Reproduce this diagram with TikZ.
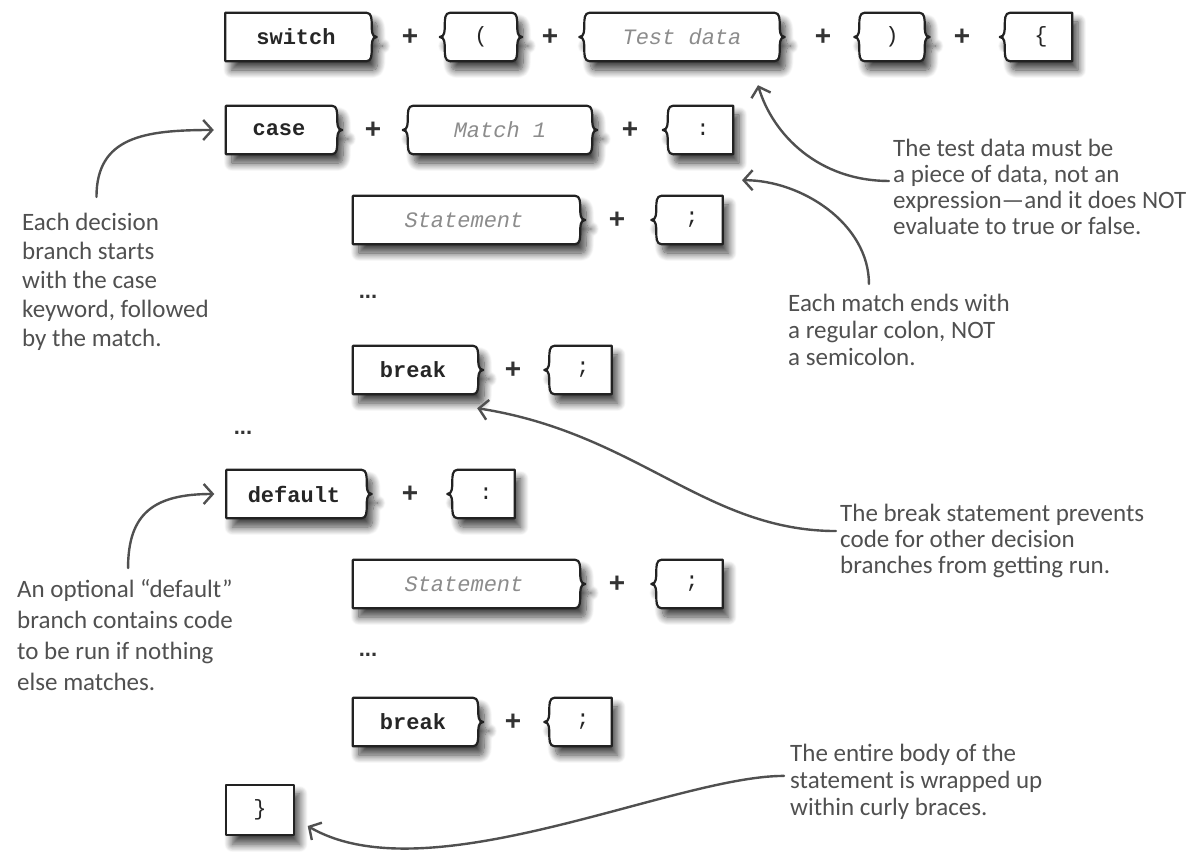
\documentclass[tikz,border=0pt]{standalone}
\usepackage{fontspec}
\setmainfont{Carlito}
\setmonofont{Liberation Mono}
\newfontfamily\plusfont{Liberation Sans}
\usetikzlibrary{positioning,arrows.meta,backgrounds,shadows.blur}
\definecolor{inkgray}{HTML}{505050}
\definecolor{edgegray}{HTML}{222222}
\definecolor{holdgray}{HTML}{8C8C8C}
\tikzset{
  slot/.style={rectangle, minimum height=48pt, inner sep=0pt, font=\fontsize{22}{22}\selectfont\ttfamily, text=black!85},
  keyword/.style={slot, font=\fontsize{22}{22}\selectfont\ttfamily\bfseries},
  holder/.style={slot, font=\fontsize{22}{22}\selectfont\ttfamily\itshape, text=holdgray},
  piece/.style={draw=edgegray, line width=2.2pt, fill=white, line join=round,
    blur shadow={shadow xshift=6pt, shadow yshift=-9pt, shadow blur radius=8pt, shadow blur steps=14, shadow opacity=75}},
  plus/.style={font=\fontsize{28}{28}\selectfont\plusfont\bfseries, text=black!80},
  dots/.style={font=\fontsize{22}{22}\selectfont\plusfont\bfseries, text=black!80},
  note/.style={align=left, anchor=north west, inner sep=0pt, text=inkgray, font=\fontsize{25}{27}\selectfont},
  callout/.style={-{Straight Barb[length=9pt,width=20pt]}, draw=inkgray, line width=2.4pt, line cap=round}
}
% brace shaped edges of the puzzle pieces
\newcommand{\rightwave}[1]{to[out=0,in=90] ([shift={(5,-12)}]#1.north east) to[out=-90,in=180] ([xshift=10pt]#1.east) to[out=180,in=90] ([shift={(5,12)}]#1.south east) to[out=-90,in=0] (#1.south east)}
\newcommand{\leftwave}[1]{to[out=180,in=-90] ([shift={(-5,12)}]#1.south west) to[out=90,in=0] ([xshift=-10pt]#1.west) to[out=0,in=-90] ([shift={(-5,-12)}]#1.north west) to[out=90,in=180] (#1.north west)}
\newcommand{\piece}[3]{%
  \ifx w#2\def\pieceleft{\leftwave{#1}}\else\def\pieceleft{-- (#1.north west)}\fi
  \ifx w#3\def\pieceright{\rightwave{#1}}\else\def\pieceright{-- (#1.south east)}\fi
  \draw[piece] (#1.north west) -- (#1.north east) \pieceright -- (#1.south west) \pieceleft -- cycle;}

\begin{document}
\begin{tikzpicture}[x=1pt, y=1pt]
\useasboundingbox (0,0) rectangle (1203,-853);

% switch line
\node[keyword, minimum width=141pt] (sw) at (296,-37) {switch};
\node[plus] (p1) at (410,-37) {+};
\node[slot, minimum width=62pt] (lpar) at (481,-37) {(};
\node[plus] (p2) at (550,-37) {+};
\node[holder, minimum width=185pt] (data) at (682,-37) {Test data};
\node[plus] (p3) at (823,-37) {+};
\node[slot, minimum width=55pt] (rpar) at (892,-37) {)};
\node[plus] (p4) at (962,-37) {+};
\node[slot, minimum width=62pt] (lbrace) at (1041,-37) {\{};

% first case
\node[keyword, minimum width=106pt] (case1) at (279,-130) {case};
\node[plus] (p5) at (373,-130) {+};
\node[holder, minimum width=174pt] (match) at (500,-130) {Match 1};
\node[plus] (p6) at (630,-130) {+};
\node[slot, minimum width=60pt] (colon1) at (703,-130) {:};

\node[holder, minimum width=222pt] (stmt1) at (464,-220) {Statement};
\node[plus] (p7) at (617,-220) {+};
\node[slot, minimum width=61pt] (semi1) at (692,-220) {;};
\node[dots] (dots1) at (368,-297) {...};
\node[keyword, minimum width=120pt] (brk1) at (413,-370) {break};
\node[plus] (p8) at (513,-370) {+};
\node[slot, minimum width=57pt] (semi2) at (583,-370) {;};

% default
\node[dots] (dots2) at (243,-433) {...};
\node[keyword, minimum width=135pt] (dflt) at (294,-494) {default};
\node[plus] (p9) at (410,-494) {+};
\node[slot, minimum width=57pt] (colon2) at (486,-494) {:};

\node[holder, minimum width=222pt] (stmt2) at (464,-584) {Statement};
\node[plus] (p10) at (617,-584) {+};
\node[slot, minimum width=61pt] (semi3) at (692,-584) {;};
\node[dots] (dots3) at (368,-655) {...};
\node[keyword, minimum width=120pt] (brk2) at (413,-722) {break};
\node[plus] (p11) at (513,-722) {+};
\node[slot, minimum width=57pt] (semi4) at (583,-722) {;};

\node[slot, minimum width=67pt, minimum height=50pt] (close) at (260,-810) {\}};

\begin{scope}[on background layer]
\piece{sw}{s}{w} \piece{lpar}{w}{w} \piece{data}{w}{w} \piece{rpar}{w}{w} \piece{lbrace}{w}{s}
\piece{case1}{s}{w} \piece{match}{w}{w} \piece{colon1}{w}{s}
\piece{stmt1}{s}{w} \piece{semi1}{w}{s}
\piece{brk1}{s}{w} \piece{semi2}{w}{s}
\piece{dflt}{s}{w} \piece{colon2}{w}{s}
\piece{stmt2}{s}{w} \piece{semi3}{w}{s}
\piece{brk2}{s}{w} \piece{semi4}{w}{s}
\piece{close}{s}{s}
\end{scope}

% handwritten notes
\node[note, font=\fontsize{25}{29}\selectfont] (n1) at (22,-213) {Each decision\\branch starts\\with the case\\keyword, followed\\by the match.};
\node[note, font=\fontsize{25}{26}\selectfont] (n2) at (893,-139) {The test data must be\\a piece of data, not an\\expression---and it does NOT\\evaluate to true or false.};
\node[note] (n3) at (788,-294) {Each match ends with\\a regular colon, NOT\\a semicolon.};
\node[note, font=\fontsize{25}{26}\selectfont] (n4) at (840,-504) {The break statement prevents\\code for other decision\\branches from getting run.};
\node[note, font=\fontsize{25}{31}\selectfont] (n5) at (17,-579) {An optional ``default''\\branch contains code\\to be run if nothing\\else matches.};
\node[note] (n6) at (790,-744) {The entire body of the\\statement is wrapped up\\within curly braces.};

\draw[callout] ([xshift=-19pt,yshift=16pt]n1.north) .. controls +(0,60) and +(-70,0) .. ([xshift=-12pt]case1.west);
\draw[callout] ([xshift=-4pt,yshift=6pt]n2.west) .. controls +(-70,0) and +(15,-50) .. ([shift={(76,-24)}]data.south);
\draw[callout] ([xshift=-30pt,yshift=10pt]n3.north) .. controls +(0,60) and +(60,0) .. ([shift={(39,-26)}]colon1.south);
\draw[callout] ([xshift=-4pt,yshift=10pt]n4.west) .. controls +(-130,0) and +(160,-25) .. ([shift={(4,-14)}]brk1.south east);
\draw[callout] ([xshift=3pt,yshift=11pt]n5.north) .. controls +(0,55) and +(-60,0) .. ([xshift=-12pt]dflt.west);
\draw[callout] ([xshift=-6pt,yshift=6pt]n6.west) .. controls +(-110,0) and +(120,-70) .. ([shift={(14,-16)}]close.east);
\end{tikzpicture}
\end{document}
